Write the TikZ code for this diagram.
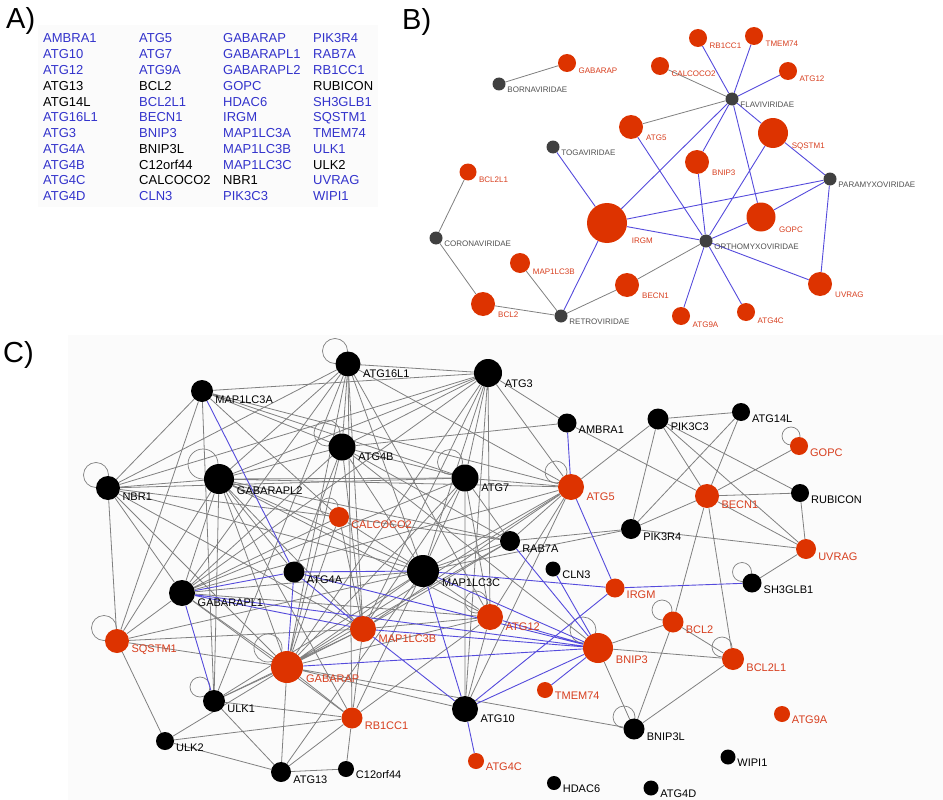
\documentclass[tikz,border=0pt]{standalone}
\usepackage{fontspec}
\setmainfont{Liberation Sans}
\usetikzlibrary{backgrounds}
\definecolor{gblue}{RGB}{51,51,204}
\definecolor{nred}{RGB}{221,51,0}
\definecolor{tred}{RGB}{215,62,30}
\definecolor{vgray}{RGB}{64,64,64}
\definecolor{vtext}{RGB}{80,80,80}
\definecolor{egray}{RGB}{128,128,128}
\definecolor{eblue}{RGB}{85,75,220}
\definecolor{panelbg}{RGB}{251,251,251}

\begin{document}
\begin{tikzpicture}[x=1pt, y=-1pt,
    ttl/.style={font=\fontsize{29}{29}\selectfont, anchor=base west, inner sep=0pt},
    gene/.style={font=\fontsize{13}{13}\selectfont, anchor=base west, inner sep=0pt, text=gblue},
    other/.style={gene, text=black},
    blab/.style={font=\fontsize{8}{8}\selectfont, inner sep=0.5pt, anchor=west},
    clab/.style={font=\fontsize{11}{11}\selectfont, inner sep=0.5pt, anchor=west},
    bgene/.style 2 args={circle, fill=nred, inner sep=0pt, minimum size=#1,
                         label={[blab, text=tred, label distance=0.25*#1]-37:#2}},
    bvirus/.style={circle, fill=vgray, inner sep=0pt, minimum size=13pt,
                   label={[blab, text=vtext, label distance=3pt]-37:#1}},
    cred/.style 2 args={circle, fill=nred, inner sep=0pt, minimum size=#1,
                        label={[clab, text=tred, label distance=0.18*#1]-33:#2}},
    cblk/.style 2 args={circle, fill=black, inner sep=0pt, minimum size=#1,
                        label={[clab, label distance=0.18*#1]-33:#2}},
    gline/.style={draw=egray, line width=0.8pt},
    bline/.style={draw=eblue, line width=0.9pt},
    selfloop/.style={draw=egray, line width=0.7pt}
]
\useasboundingbox (0,0) rectangle (943,800);

% A) gene list
\node[ttl] (atitle) at (6,29) {A)};
\node[gene]  (aAMBRA1)  at (43,43)    {AMBRA1};
\node[gene]  (aATG10)   at (43,58.8)  {ATG10};
\node[gene]  (aATG12)   at (43,74.5)  {ATG12};
\node[other] (aATG13)   at (43,90.3)  {ATG13};
\node[other] (aATG14L)  at (43,106.1) {ATG14L};
\node[gene]  (aATG16L1) at (43,121.9) {ATG16L1};
\node[gene]  (aATG3)    at (43,137.6) {ATG3};
\node[gene]  (aATG4A)   at (43,153.4) {ATG4A};
\node[gene]  (aATG4B)   at (43,169.2) {ATG4B};
\node[gene]  (aATG4C)   at (43,184.9) {ATG4C};
\node[gene]  (aATG4D)   at (43,200.7) {ATG4D};

\node[gene]  (aATG5)     at (139,43)    {ATG5};
\node[gene]  (aATG7)     at (139,58.8)  {ATG7};
\node[gene]  (aATG9A)    at (139,74.5)  {ATG9A};
\node[other] (aBCL2)     at (139,90.3)  {BCL2};
\node[gene]  (aBCL2L1)   at (139,106.1) {BCL2L1};
\node[gene]  (aBECN1)    at (139,121.9) {BECN1};
\node[gene]  (aBNIP3)    at (139,137.6) {BNIP3};
\node[other] (aBNIP3L)   at (139,153.4) {BNIP3L};
\node[other] (aC12orf44) at (139,169.2) {C12orf44};
\node[other] (aCALCOCO2) at (139,184.9) {CALCOCO2};
\node[gene]  (aCLN3)     at (139,200.7) {CLN3};

\node[gene]  (aGABARAP)   at (223,43)    {GABARAP};
\node[gene]  (aGABARAPL1) at (223,58.8)  {GABARAPL1};
\node[gene]  (aGABARAPL2) at (223,74.5)  {GABARAPL2};
\node[gene]  (aGOPC)      at (223,90.3)  {GOPC};
\node[gene]  (aHDAC6)     at (223,106.1) {HDAC6};
\node[gene]  (aIRGM)      at (223,121.9) {IRGM};
\node[gene]  (aMAP1LC3A)  at (223,137.6) {MAP1LC3A};
\node[gene]  (aMAP1LC3B)  at (223,153.4) {MAP1LC3B};
\node[gene]  (aMAP1LC3C)  at (223,169.2) {MAP1LC3C};
\node[other] (aNBR1)      at (223,184.9) {NBR1};
\node[gene]  (aPIK3C3)    at (223,200.7) {PIK3C3};

\node[gene]  (aPIK3R4)  at (313,43)    {PIK3R4};
\node[gene]  (aRAB7A)   at (313,58.8)  {RAB7A};
\node[gene]  (aRB1CC1)  at (313,74.5)  {RB1CC1};
\node[other] (aRUBICON) at (313,90.3)  {RUBICON};
\node[gene]  (aSH3GLB1) at (313,106.1) {SH3GLB1};
\node[gene]  (aSQSTM1)  at (313,121.9) {SQSTM1};
\node[gene]  (aTMEM74)  at (313,137.6) {TMEM74};
\node[gene]  (aULK1)    at (313,153.4) {ULK1};
\node[other] (aULK2)    at (313,169.2) {ULK2};
\node[gene]  (aUVRAG)   at (313,184.9) {UVRAG};
\node[gene]  (aWIPI1)   at (313,200.7) {WIPI1};

% B) virus network
\node[ttl] (btitle) at (402,30) {B)};
\node[bgene={18pt}{GABARAP}]  (bGABARAP)  at (567,63)  {};
\node[bvirus=BORNAVIRIDAE]    (bBORNA)    at (499,84)  {};
\node[bgene={18pt}{CALCOCO2}] (bCALCOCO2) at (660,66)  {};
\node[bgene={18pt}{RB1CC1}]   (bRB1CC1)   at (698,38)  {};
\node[bgene={18pt}{TMEM74}]   (bTMEM74)   at (754,36)  {};
\node[bgene={18pt}{ATG12}]    (bATG12)    at (788,71)  {};
\node[bvirus=FLAVIVIRIDAE]    (bFLAVI)    at (732,99)  {};
\node[bgene={24pt}{ATG5}]     (bATG5)     at (631,127) {};
\node[bgene={30pt}{SQSTM1}]   (bSQSTM1)   at (773,133) {};
\node[bvirus=TOGAVIRIDAE]     (bTOGA)     at (553,147) {};
\node[bgene={24pt}{BNIP3}]    (bBNIP3)    at (697,162) {};
\node[bgene={17pt}{BCL2L1}]   (bBCL2L1)   at (468,172) {};
\node[bvirus=PARAMYXOVIRIDAE] (bPARAMYXO) at (830,179) {};
\node[bgene={40pt}{IRGM}]     (bIRGM)     at (607,223) {};
\node[bgene={29pt}{GOPC}]     (bGOPC)     at (761,217) {};
\node[bvirus=CORONAVIRIDAE]   (bCORONA)   at (436,238) {};
\node[bvirus=ORTHOMYXOVIRIDAE] (bORTHO)   at (706,241) {};
\node[bgene={20pt}{MAP1LC3B}] (bMAP1LC3B) at (520,263) {};
\node[bgene={24pt}{BECN1}]    (bBECN1)    at (627,285) {};
\node[bgene={24pt}{UVRAG}]    (bUVRAG)    at (820,284) {};
\node[bgene={24pt}{BCL2}]     (bBCL2)     at (483,304) {};
\node[bvirus=RETROVIRIDAE]    (bRETRO)    at (561,316) {};
\node[bgene={18pt}{ATG9A}]    (bATG9A)    at (681,316) {};
\node[bgene={18pt}{ATG4C}]    (bATG4C)    at (746,312) {};

% C) interaction network
\node[ttl] (ctitle) at (3,362) {C)};
\node[cblk={22pt}{MAP1LC3A}]  (cMAP1LC3A)  at (202,391) {};
\node[cblk={24pt}{NBR1}]      (cNBR1)      at (108,488) {};
\node[cblk={30pt}{GABARAPL2}] (cGABARAPL2) at (219,479) {};
\node[cblk={25pt}{ATG16L1}]   (cATG16L1)   at (348,364) {};
\node[cblk={28pt}{ATG3}]      (cATG3)      at (488,373) {};
\node[cblk={19pt}{AMBRA1}]    (cAMBRA1)    at (567,423) {};
\node[cblk={27pt}{ATG4B}]     (cATG4B)     at (342,447) {};
\node[cblk={27pt}{ATG7}]      (cATG7)      at (465,478) {};
\node[cred={26pt}{ATG5}]      (cATG5)      at (571,487) {};
\node[cred={20pt}{CALCOCO2}]  (cCALCOCO2)  at (339,517) {};
\node[cblk={20pt}{RAB7A}]     (cRAB7A)     at (510,541) {};
\node[cblk={21pt}{PIK3C3}]    (cPIK3C3)    at (658,419) {};
\node[cblk={18pt}{ATG14L}]    (cATG14L)    at (741,412) {};
\node[cred={18pt}{GOPC}]      (cGOPC)      at (799,446) {};
\node[cred={24pt}{BECN1}]     (cBECN1)     at (707,496) {};
\node[cblk={18pt}{RUBICON}]   (cRUBICON)   at (800,493) {};
\node[cblk={20pt}{PIK3R4}]    (cPIK3R4)    at (631,529) {};
\node[cred={20pt}{UVRAG}]     (cUVRAG)     at (806,549) {};
\node[cblk={15pt}{CLN3}]      (cCLN3)      at (553,569) {};
\node[cblk={32pt}{MAP1LC3C}]  (cMAP1LC3C)  at (423,571) {};
\node[cblk={21pt}{ATG4A}]     (cATG4A)     at (294,572) {};
\node[cblk={26pt}{GABARAPL1}] (cGABARAPL1) at (182,593) {};
\node[cred={19pt}{IRGM}]      (cIRGM)      at (615,588) {};
\node[cblk={19pt}{SH3GLB1}]   (cSH3GLB1)   at (752,583) {};
\node[cred={24pt}{SQSTM1}]    (cSQSTM1)    at (117,641) {};
\node[cred={26pt}{MAP1LC3B}]  (cMAP1LC3B)  at (363,629) {};
\node[cred={26pt}{ATG12}]     (cATG12)     at (490,617) {};
\node[cred={21pt}{BCL2}]      (cBCL2)      at (673,622) {};
\node[cred={30pt}{BNIP3}]     (cBNIP3)     at (598,648) {};
\node[cred={22pt}{BCL2L1}]    (cBCL2L1)    at (733,659) {};
\node[cred={32pt}{GABARAP}]   (cGABARAP)   at (287,667) {};
\node[cred={16pt}{TMEM74}]    (cTMEM74)    at (545,690) {};
\node[cblk={22pt}{ULK1}]      (cULK1)      at (214,701) {};
\node[cblk={26pt}{ATG10}]     (cATG10)     at (465,709) {};
\node[cred={21pt}{RB1CC1}]    (cRB1CC1)    at (352,718) {};
\node[cred={16pt}{ATG9A}]     (cATG9A)     at (782,714) {};
\node[cblk={21pt}{BNIP3L}]    (cBNIP3L)    at (634,729) {};
\node[cblk={18pt}{ULK2}]      (cULK2)      at (165,741) {};
\node[cblk={20pt}{ATG13}]     (cATG13)     at (281,772) {};
\node[cblk={16pt}{C12orf44}]  (cC12orf44)  at (346,769) {};
\node[cred={16pt}{ATG4C}]     (cATG4C)     at (476,761) {};
\node[cblk={14pt}{HDAC6}]     (cHDAC6)     at (554,783) {};
\node[cblk={15pt}{WIPI1}]     (cWIPI1)     at (728,757) {};
\node[cblk={15pt}{ATG4D}]     (cATG4D)     at (651,788) {};

\begin{scope}[on background layer]
% panel backgrounds
\fill[panelbg] (38,25) rectangle (378,207);
\fill[panelbg] (68,335) rectangle (943,800);

% B) edges
\draw[gline] (bGABARAP) -- (bBORNA) (bCALCOCO2) -- (bFLAVI) (bATG5) -- (bFLAVI)
    (bBCL2L1) -- (bCORONA) (bCORONA) -- (bBCL2) (bBCL2) -- (bRETRO)
    (bMAP1LC3B) -- (bRETRO) (bRETRO) -- (bBECN1) (bBECN1) -- (bORTHO);
\draw[bline] (bRB1CC1) -- (bFLAVI) (bTMEM74) -- (bFLAVI) (bATG12) -- (bFLAVI)
    (bFLAVI) -- (bSQSTM1) (bFLAVI) -- (bIRGM) (bFLAVI) -- (bBNIP3) (bFLAVI) -- (bGOPC)
    (bTOGA) -- (bIRGM) (bATG5) -- (bORTHO) (bSQSTM1) -- (bORTHO) (bSQSTM1) -- (bPARAMYXO)
    (bBNIP3) -- (bORTHO) (bIRGM) -- (bPARAMYXO) (bIRGM) -- (bORTHO) (bIRGM) -- (bRETRO)
    (bGOPC) -- (bPARAMYXO) (bGOPC) -- (bORTHO) (bPARAMYXO) -- (bUVRAG)
    (bORTHO) -- (bUVRAG) (bORTHO) -- (bATG9A) (bORTHO) -- (bATG4C);

% C) self loops
\draw[selfloop] ([shift={(-12,-13)}]cNBR1.center) circle[radius=12.5pt];
\draw[selfloop] ([shift={(-16,-15)}]cGABARAPL2.center) circle[radius=15pt];
\draw[selfloop] ([shift={(-13,-13)}]cATG16L1.center) circle[radius=12.5pt];
\draw[selfloop] ([shift={(-15,-14)}]cATG4B.center) circle[radius=13pt];
\draw[selfloop] ([shift={(-15,-16)}]cATG7.center) circle[radius=12.5pt];
\draw[selfloop] ([shift={(-15,-15)}]cATG5.center) circle[radius=11pt];
\draw[selfloop] ([shift={(-10,-10)}]cCALCOCO2.center) circle[radius=9pt];
\draw[selfloop] ([shift={(-8,-10)}]cGOPC.center) circle[radius=9pt];
\draw[selfloop] ([shift={(-13,-13)}]cSQSTM1.center) circle[radius=12.5pt];
\draw[selfloop] ([shift={(-14,-14)}]cULK1.center) circle[radius=10pt];
\draw[selfloop] ([shift={(-19,-19)}]cGABARAP.center) circle[radius=14pt];
\draw[selfloop] ([shift={(-14,-15)}]cATG12.center) circle[radius=11pt];
\draw[selfloop] ([shift={(-15,-18)}]cBNIP3.center) circle[radius=13pt];
\draw[selfloop] ([shift={(-11,-12)}]cBCL2.center) circle[radius=10pt];
\draw[selfloop] ([shift={(-11,-12)}]cBCL2L1.center) circle[radius=10pt];
\draw[selfloop] ([shift={(-10,-12)}]cBNIP3L.center) circle[radius=11pt];
\draw[selfloop] ([shift={(-10,-11)}]cSH3GLB1.center) circle[radius=9.5pt];

% C) gray edges
\draw[gline] (cGABARAPL2) -- (cNBR1) (cGABARAPL2) -- (cATG16L1) (cGABARAPL2) -- (cATG3)
    (cGABARAPL2) -- (cATG4B) (cGABARAPL2) -- (cATG7) (cGABARAPL2) -- (cCALCOCO2)
    (cGABARAPL2) -- (cATG5) (cGABARAPL2) -- (cGABARAPL1) (cGABARAPL2) -- (cSQSTM1)
    (cGABARAPL2) -- (cULK1) (cGABARAPL2) -- (cGABARAP) (cGABARAPL2) -- (cMAP1LC3B)
    (cGABARAPL2) -- (cMAP1LC3C) (cGABARAPL2) -- (cRB1CC1) (cGABARAPL2) -- (cATG12)
    (cGABARAPL2) -- (cATG4A) (cGABARAPL2) -- (cRAB7A);
\draw[gline] (cGABARAP) -- (cNBR1) (cGABARAP) -- (cATG16L1) (cGABARAP) -- (cATG3)
    (cGABARAP) -- (cATG4B) (cGABARAP) -- (cATG7) (cGABARAP) -- (cMAP1LC3C)
    (cGABARAP) -- (cATG5) (cGABARAP) -- (cRAB7A) (cGABARAP) -- (cATG12)
    (cGABARAP) -- (cSQSTM1) (cGABARAP) -- (cULK1) (cGABARAP) -- (cULK2)
    (cGABARAP) -- (cRB1CC1) (cGABARAP) -- (cMAP1LC3B) (cGABARAP) -- (cATG10)
    (cGABARAP) -- (cBNIP3L) (cGABARAP) -- (cCALCOCO2) (cGABARAP) -- (cGABARAPL1)
    (cGABARAP) -- (cATG13);
\draw[gline] (cGABARAPL1) -- (cNBR1) (cGABARAPL1) -- (cATG16L1) (cGABARAPL1) -- (cATG3)
    (cGABARAPL1) -- (cATG4B) (cGABARAPL1) -- (cATG7) (cGABARAPL1) -- (cMAP1LC3C)
    (cGABARAPL1) -- (cATG5) (cGABARAPL1) -- (cSQSTM1) (cGABARAPL1) -- (cATG12)
    (cGABARAPL1) -- (cRB1CC1) (cGABARAPL1) -- (cCALCOCO2);
\draw[gline] (cMAP1LC3C) -- (cATG16L1) (cMAP1LC3C) -- (cATG3) (cMAP1LC3C) -- (cATG4B)
    (cMAP1LC3C) -- (cATG7) (cMAP1LC3C) -- (cATG5) (cMAP1LC3C) -- (cRAB7A)
    (cMAP1LC3C) -- (cNBR1) (cMAP1LC3C) -- (cSQSTM1) (cMAP1LC3C) -- (cATG12)
    (cMAP1LC3C) -- (cRB1CC1) (cMAP1LC3C) -- (cATG13) (cMAP1LC3C) -- (cCALCOCO2)
    (cMAP1LC3C) -- (cULK1) (cMAP1LC3C) -- (cPIK3R4);
\draw[gline] (cMAP1LC3B) -- (cATG16L1) (cMAP1LC3B) -- (cATG3) (cMAP1LC3B) -- (cATG4B)
    (cMAP1LC3B) -- (cATG7) (cMAP1LC3B) -- (cNBR1) (cMAP1LC3B) -- (cSQSTM1)
    (cMAP1LC3B) -- (cATG5) (cMAP1LC3B) -- (cRAB7A) (cMAP1LC3B) -- (cRB1CC1)
    (cMAP1LC3B) -- (cCALCOCO2) (cMAP1LC3B) -- (cULK1) (cMAP1LC3B) -- (cATG12);
\draw[gline] (cMAP1LC3A) -- (cATG3) (cMAP1LC3A) -- (cATG7) (cMAP1LC3A) -- (cATG4B)
    (cMAP1LC3A) -- (cNBR1) (cMAP1LC3A) -- (cSQSTM1) (cMAP1LC3A) -- (cULK1)
    (cMAP1LC3A) -- (cATG5) (cMAP1LC3A) -- (cCALCOCO2);
\draw[gline] (cATG3) -- (cATG16L1) (cATG3) -- (cATG7) (cATG3) -- (cATG5) (cATG3) -- (cATG12)
    (cATG3) -- (cATG10) (cATG3) -- (cAMBRA1) (cATG3) -- (cNBR1) (cATG3) -- (cATG4B);
\draw[gline] (cATG16L1) -- (cATG5) (cATG16L1) -- (cATG12) (cATG16L1) -- (cNBR1)
    (cATG16L1) -- (cRB1CC1) (cATG16L1) -- (cULK1) (cATG16L1) -- (cATG4B);
\draw[gline] (cATG7) -- (cATG12) (cATG7) -- (cATG10) (cATG7) -- (cATG5) (cATG7) -- (cRAB7A)
    (cATG7) -- (cNBR1) (cATG7) -- (cATG4B);
\draw[gline] (cATG4B) -- (cAMBRA1) (cATG4B) -- (cRAB7A) (cATG4B) -- (cATG4A) (cATG4B) -- (cBNIP3);
\draw[gline] (cATG5) -- (cATG12) (cATG5) -- (cATG10) (cATG5) -- (cPIK3C3) (cATG5) -- (cRAB7A);
\draw[gline] (cSQSTM1) -- (cNBR1) (cSQSTM1) -- (cULK2) (cULK1) -- (cATG13) (cULK1) -- (cRB1CC1)
    (cULK2) -- (cATG13) (cULK2) -- (cRB1CC1) (cATG13) -- (cC12orf44) (cATG13) -- (cRB1CC1)
    (cRB1CC1) -- (cC12orf44) (cRB1CC1) -- (cATG12) (cCALCOCO2) -- (cNBR1) (cCALCOCO2) -- (cRAB7A)
    (cRAB7A) -- (cPIK3R4) (cAMBRA1) -- (cBECN1) (cATG12) -- (cATG10);
\draw[gline] (cPIK3C3) -- (cATG14L) (cPIK3C3) -- (cPIK3R4) (cPIK3C3) -- (cBECN1)
    (cPIK3C3) -- (cUVRAG) (cPIK3C3) -- (cRUBICON) (cATG14L) -- (cPIK3R4) (cATG14L) -- (cBECN1)
    (cGOPC) -- (cBECN1) (cBECN1) -- (cRUBICON) (cBECN1) -- (cUVRAG) (cBECN1) -- (cPIK3R4)
    (cBECN1) -- (cBCL2) (cBECN1) -- (cBCL2L1) (cRUBICON) -- (cUVRAG) (cPIK3R4) -- (cUVRAG)
    (cUVRAG) -- (cSH3GLB1);
\draw[gline] (cBNIP3) -- (cBCL2) (cBNIP3) -- (cBCL2L1) (cBNIP3) -- (cBNIP3L)
    (cBCL2) -- (cBNIP3L) (cBCL2) -- (cBCL2L1) (cBCL2L1) -- (cBNIP3L);

% C) blue edges
\draw[bline] (cMAP1LC3A) -- (cATG4A) (cAMBRA1) -- (cATG5) (cATG5) -- (cIRGM)
    (cRAB7A) -- (cBNIP3) (cCLN3) -- (cBNIP3) (cGABARAPL1) -- (cATG4A)
    (cGABARAPL1) -- (cMAP1LC3B) (cGABARAPL1) -- (cBNIP3) (cGABARAPL1) -- (cULK1)
    (cATG4A) -- (cGABARAP) (cATG4A) -- (cMAP1LC3B) (cATG4A) -- (cMAP1LC3C)
    (cATG4A) -- (cBNIP3) (cMAP1LC3C) -- (cIRGM) (cIRGM) -- (cSH3GLB1)
    (cMAP1LC3C) -- (cATG10) (cMAP1LC3C) -- (cBNIP3) (cMAP1LC3B) -- (cATG10)
    (cMAP1LC3B) -- (cBNIP3) (cGABARAP) -- (cBNIP3) (cATG12) -- (cBNIP3)
    (cATG10) -- (cBNIP3) (cATG10) -- (cIRGM) (cATG10) -- (cATG4C) (cTMEM74) -- (cBNIP3);
\end{scope}

\end{tikzpicture}
\end{document}
